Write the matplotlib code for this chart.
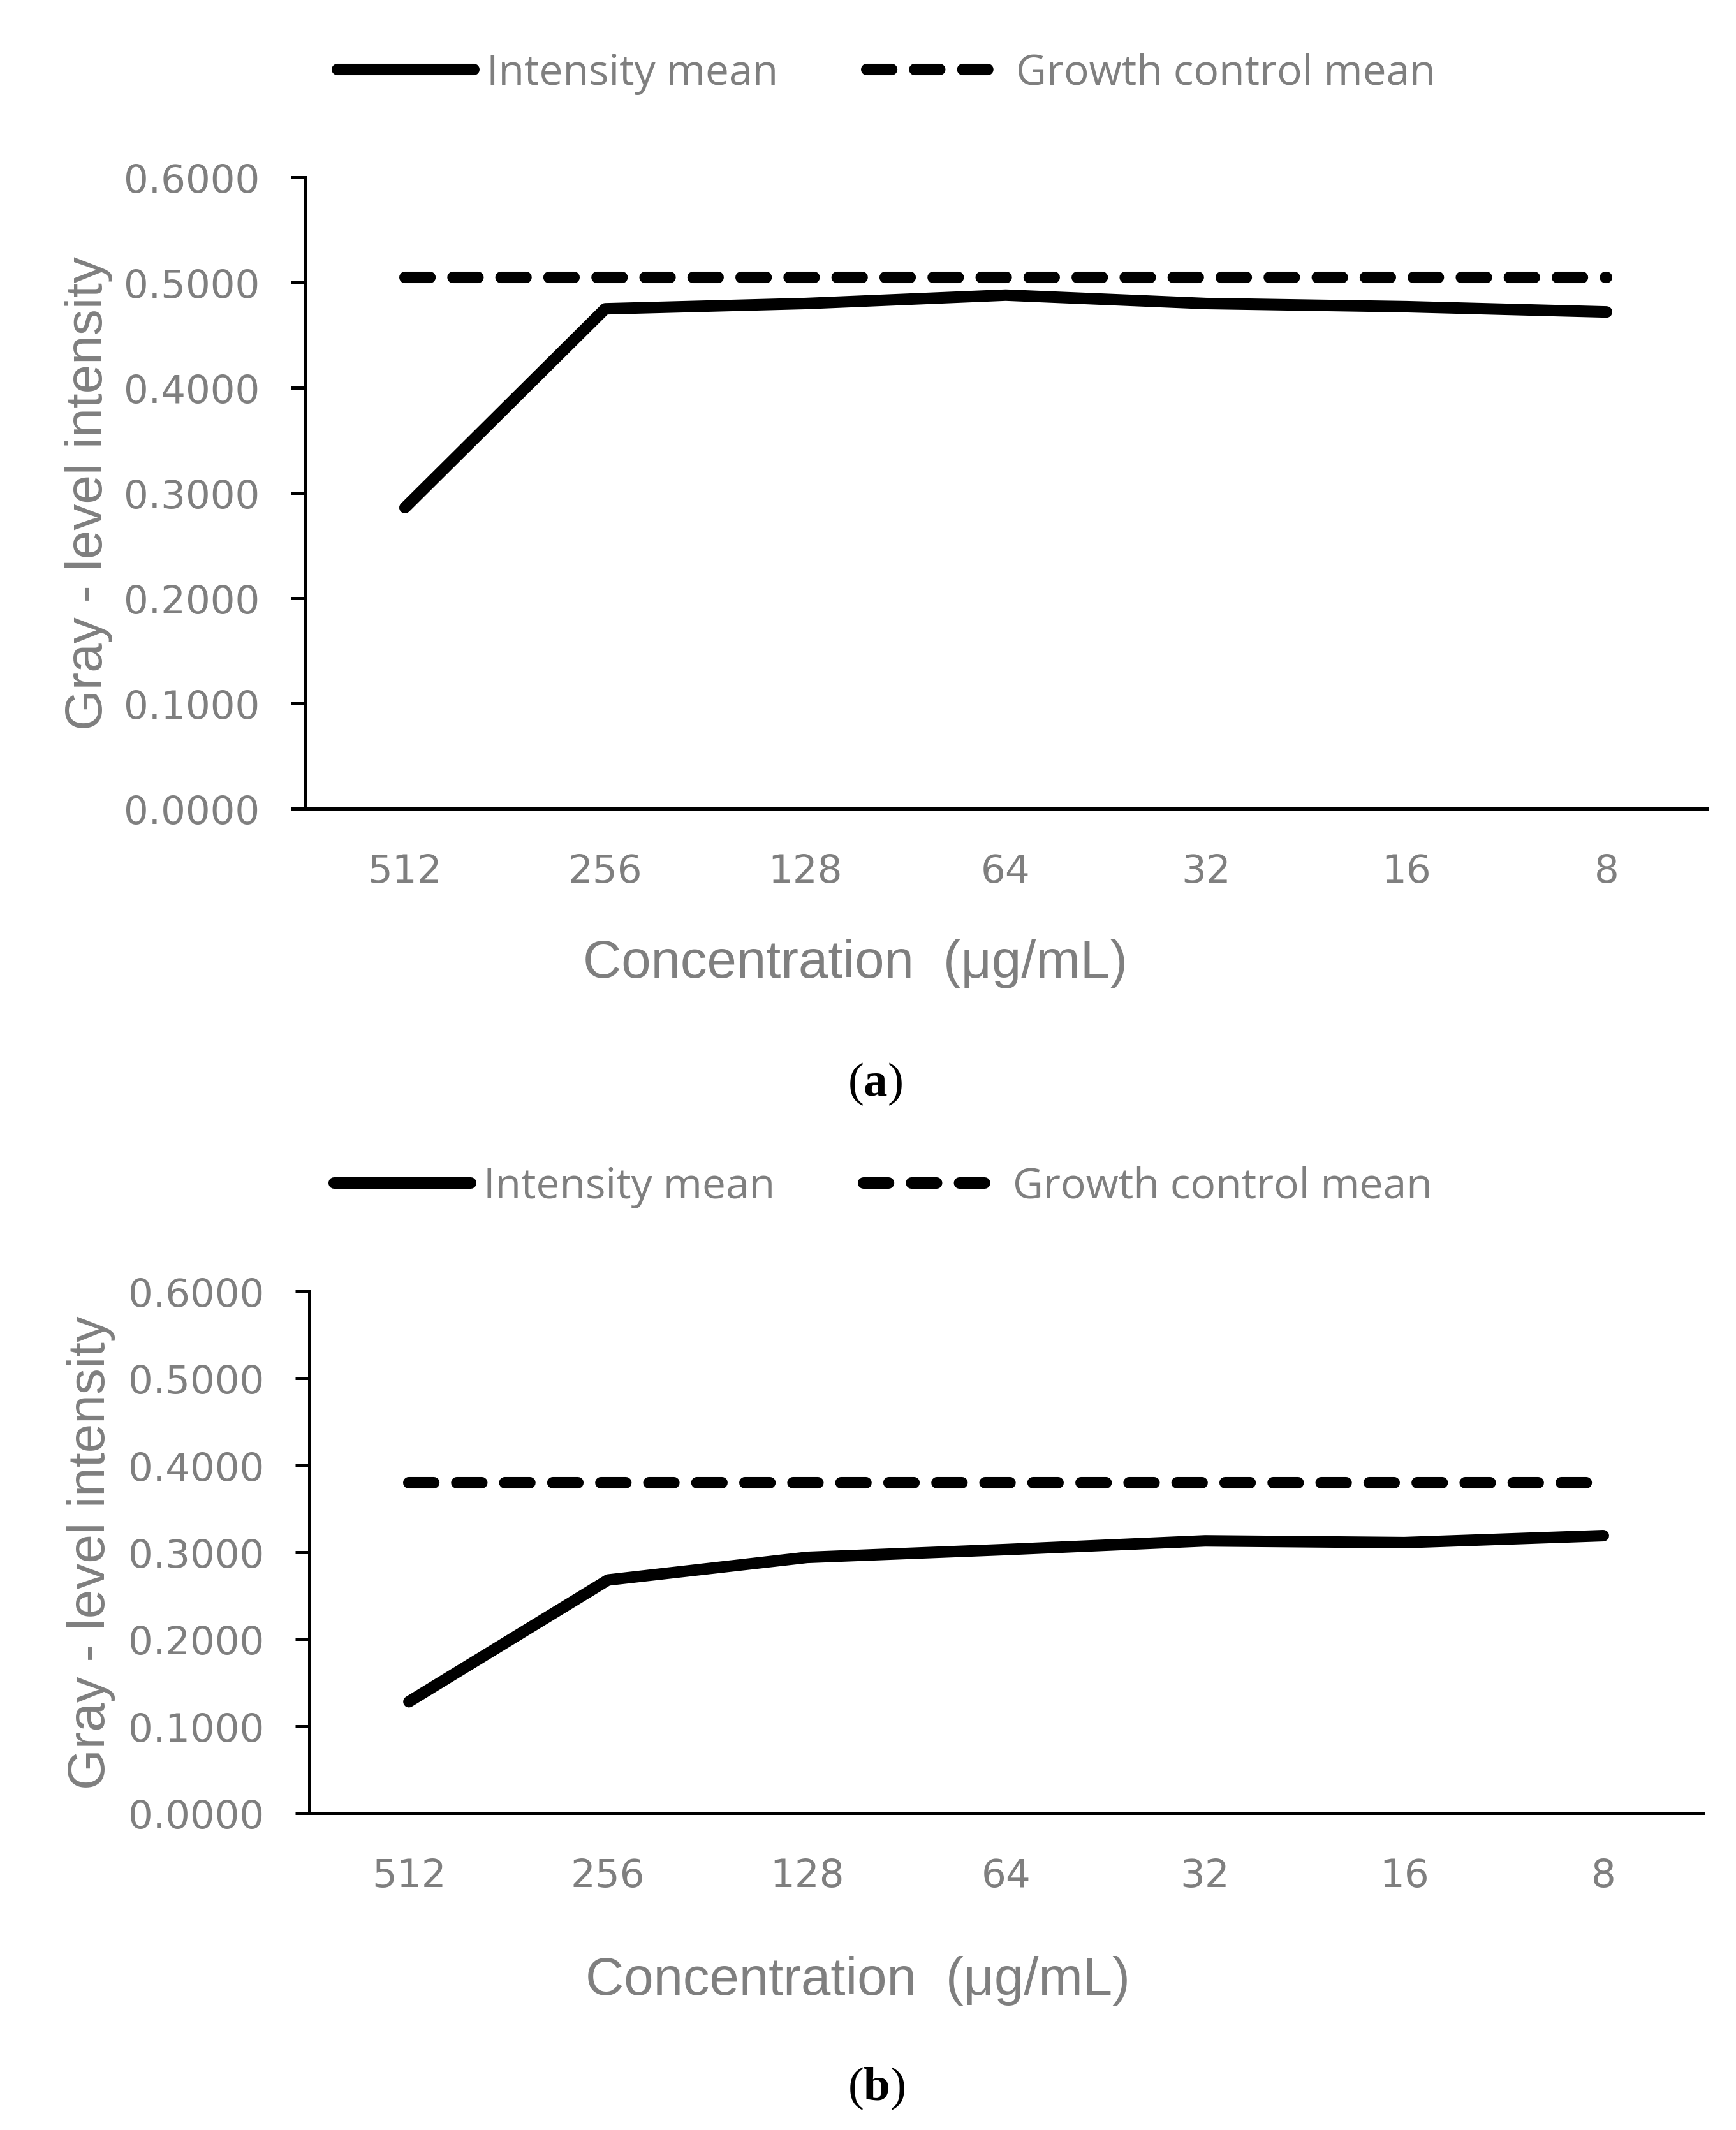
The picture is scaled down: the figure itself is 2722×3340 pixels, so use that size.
import matplotlib
matplotlib.use("Agg")
import matplotlib.pyplot as plt
import numpy as np

# ---------------- data ----------------
concentrations = ["512", "256", "128", "64", "32", "16", "8"]
intensity_a = [0.286, 0.475, 0.480, 0.488, 0.480, 0.477, 0.472]
growth_a = [0.505] * 7
intensity_b = [0.128, 0.268, 0.294, 0.303, 0.313, 0.311, 0.319]
growth_b = [0.380] * 7
yticks = [0.0, 0.1, 0.2, 0.3, 0.4, 0.5, 0.6]
series_labels = ["Intensity mean", "Growth control mean"]
xlabel = "Concentration  (\u03bcg/mL)"
ylabel = "Gray - level intensity"
captions = ["a", "b"]

GRAY = "#7f7f7f"
plt.rcParams["mathtext.fontset"] = "custom"
plt.rcParams["mathtext.rm"] = "Liberation Serif"
plt.rcParams["mathtext.bf"] = "Liberation Serif:bold"

fig = plt.figure(figsize=(27.22, 33.41), dpi=100)

panels = [
    dict(rect=[0.1756, 0.6202, 0.8075, 0.2963], inten=intensity_a, grow=growth_a,
         ylab=(-0.137, 0.5), xlab=(0.3927, -0.205), leg=(0.1943, 0.9653),
         cap=(0.504, 0.4858), caption=captions[0]),
    dict(rect=[0.1782, 0.1488, 0.8027, 0.2448], inten=intensity_b, grow=growth_b,
         ylab=(-0.139, 0.5), xlab=(0.3936, -0.273), leg=(0.1925, 0.4427),
         cap=(0.505, 0.01437), caption=captions[1]),
]

x = np.arange(len(concentrations))
LW = 13

for p in panels:
    ax = fig.add_axes(p["rect"])
    l1, = ax.plot(x, p["inten"], color="black", lw=LW, solid_capstyle="round",
                  solid_joinstyle="round", label=series_labels[0])
    l2, = ax.plot(x, p["grow"], color="black", lw=LW, dashes=(2.17, 2.0),
                  dash_capstyle="round", label=series_labels[1])
    ax.set_xlim(-0.5, len(concentrations) - 0.5)
    ax.set_ylim(0, 0.6)
    ax.set_xticks(x)
    ax.set_xticklabels(concentrations)
    ax.set_yticks(yticks)
    ax.set_yticklabels([f"{v:.4f}" for v in yticks])
    for s in ["top", "right"]:
        ax.spines[s].set_visible(False)
    for s in ["left", "bottom"]:
        ax.spines[s].set_linewidth(3.6)
        ax.spines[s].set_color("black")
    ax.tick_params(axis="y", direction="out", length=16, width=3.6, pad=35,
                   labelsize=44, labelcolor=GRAY, color="black")
    ax.tick_params(axis="x", length=0, pad=50, labelsize=44, labelcolor=GRAY)
    for t in ax.get_xticklabels() + ax.get_yticklabels():
        t.set_family("DejaVu Sans")
    ax.set_ylabel(ylabel, fontsize=59, color=GRAY, family="Liberation Sans")
    ax.yaxis.set_label_coords(*p["ylab"])
    ax.set_xlabel(xlabel, fontsize=60, color=GRAY, family="Liberation Sans")
    ax.xaxis.set_label_coords(*p["xlab"])

    leg = ax.legend(handles=[l1, l2], loc="center left",
                    bbox_to_anchor=p["leg"], bbox_transform=fig.transFigure,
                    ncol=2, frameon=False, borderpad=0, borderaxespad=0,
                    handlelength=3.25, handletextpad=0.3, columnspacing=2.1,
                    prop={"family": "Open Sans", "size": 47.5})
    for t in leg.get_texts():
        t.set_color(GRAY)

    fig.text(p["cap"][0], p["cap"][1], r"($\mathbf{%s}$)" % p["caption"],
             ha="center", va="baseline", fontsize=54, family="Liberation Serif",
             color="black")

fig.savefig("out.png", dpi=100)
